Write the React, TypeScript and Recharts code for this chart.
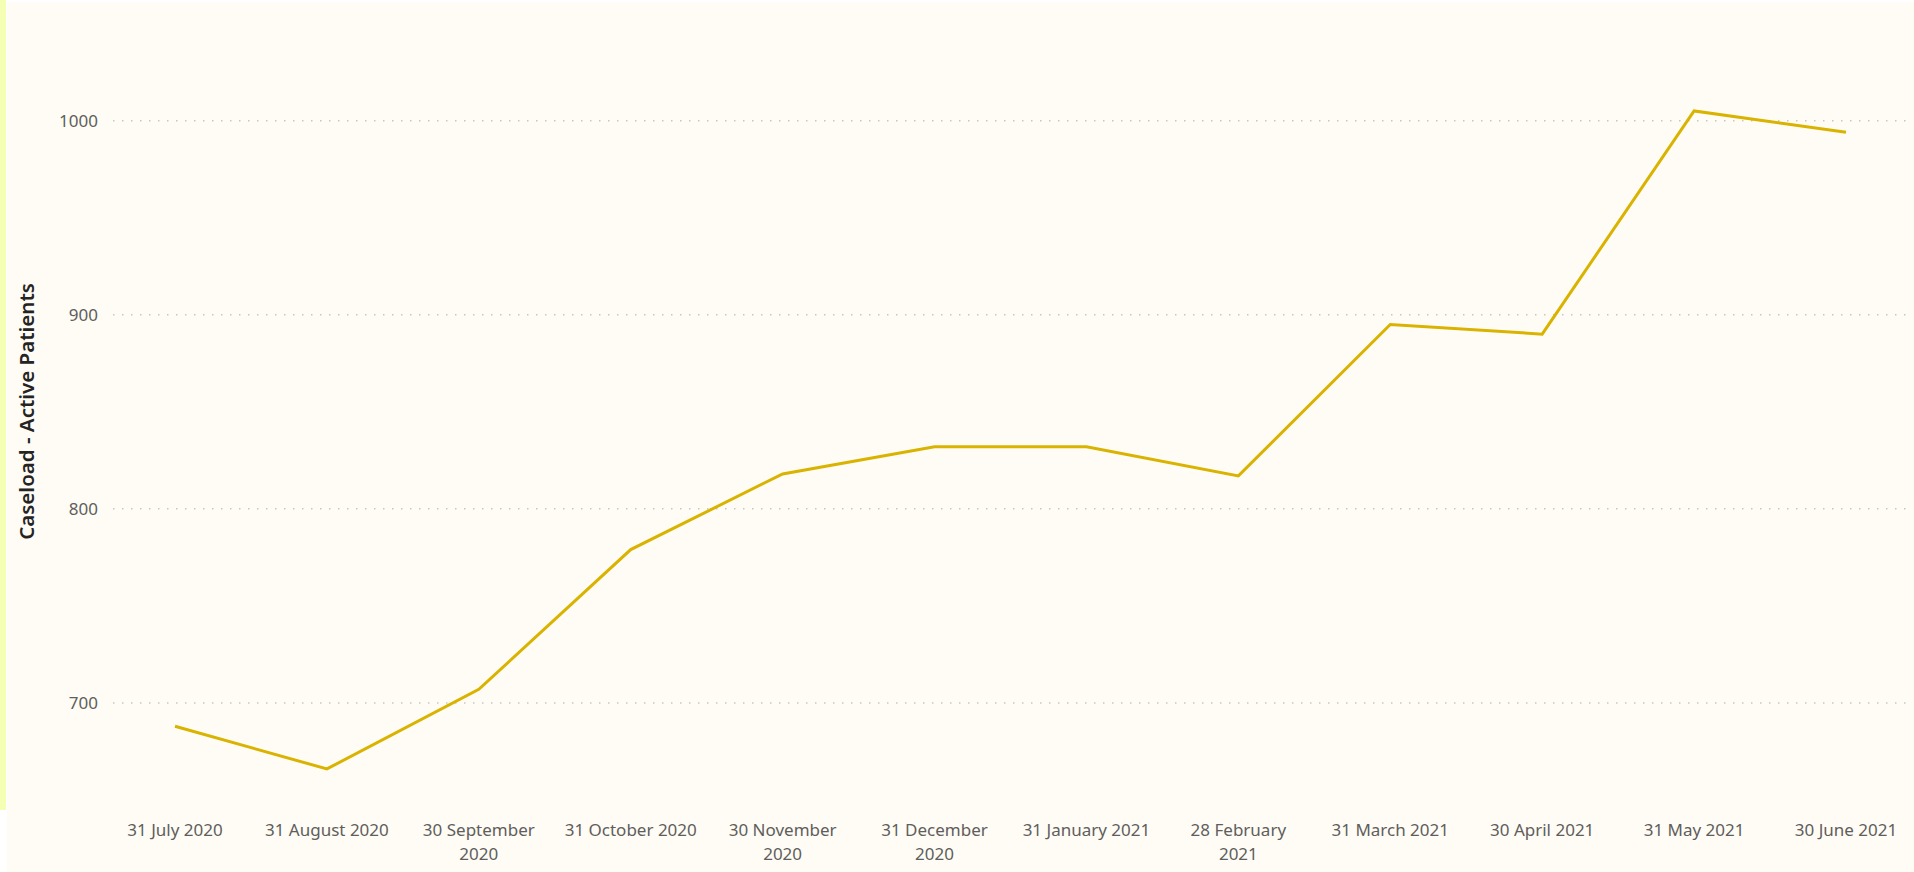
import { Line, LineChart, ReferenceLine, XAxis, YAxis } from 'recharts'

const months = [
  '31 July 2020',
  '31 August 2020',
  '30 September 2020',
  '31 October 2020',
  '30 November 2020',
  '31 December 2020',
  '31 January 2021',
  '28 February 2021',
  '31 March 2021',
  '30 April 2021',
  '31 May 2021',
  '30 June 2021',
]
const activePatients = [688, 666, 707, 779, 818, 832, 832, 817, 895, 890, 1005, 994]
const yTicks = [700, 800, 900, 1000]

const data = months.map((m, i) => ({ month: m, patients: activePatients[i] }))

const FONT = '"Segoe UI", "Noto Sans", sans-serif'

// long labels get the year pushed onto a second line, like the original
function MonthTick(props: any) {
  const { x, y, payload } = props
  const label: string = payload.value
  const words = label.split(' ')
  const lines = label.length > 15 ? [words.slice(0, -1).join(' '), words[words.length - 1]] : [label]
  return (
    <text x={x} y={y} textAnchor="middle" fill="#605E5C" fontSize={17} fontFamily={FONT}>
      {lines.map((l, i) => (
        <tspan key={i} x={x} dy={i === 0 ? 34 : 24}>
          {l}
        </tspan>
      ))}
    </text>
  )
}

function YTitle(props: any) {
  const { viewBox } = props
  const cy = viewBox.y + viewBox.height / 2 - 10
  return (
    <text
      x={26}
      y={cy}
      transform={`rotate(-90, 26, ${cy})`}
      textAnchor="middle"
      dominantBaseline="central"
      fill="#252423"
      fontSize={20.5}
      fontWeight={600}
      fontFamily={FONT}
    >
      Caseload - Active Patients
    </text>
  )
}

export default function App() {
  return (
    <div style={{ position: 'fixed', left: 0, top: 0, width: 1914, height: 872, background: '#ffffff' }}>
      <div style={{ position: 'absolute', left: 7, top: 2, right: 0, bottom: 0, background: '#FFFCF5' }} />
      <div style={{ position: 'absolute', left: 0, top: 0, width: 6, height: 810, background: '#F4FFB3' }} />
      <div style={{ position: 'absolute', left: 0, top: 0 }}>
        <LineChart width={1914} height={872} data={data} margin={{ top: 43, right: 7, bottom: 0, left: 0 }}>
          {yTicks.map((v) => (
            <ReferenceLine key={v} y={v} stroke="#C8C6C4" strokeDasharray="1.5 7.5" strokeWidth={1.5} />
          ))}
          <XAxis
            dataKey="month"
            interval={0}
            axisLine={false}
            tickLine={false}
            tickSize={0}
            padding={{ left: 62, right: 61 }}
            tick={<MonthTick />}
            height={72}
          />
          <YAxis
            domain={[650, 1040]}
            ticks={yTicks}
            axisLine={false}
            tickLine={false}
            tickSize={0}
            tickMargin={15}
            width={113}
            tick={{ fill: '#605E5C', fontSize: 17, fontFamily: FONT }}
            label={{ content: YTitle }}
          />
          <Line
            type="linear"
            dataKey="patients"
            stroke="#D9B300"
            strokeWidth={3}
            dot={false}
            activeDot={false}
            isAnimationActive={false}
          />
        </LineChart>
      </div>
    </div>
  )
}
